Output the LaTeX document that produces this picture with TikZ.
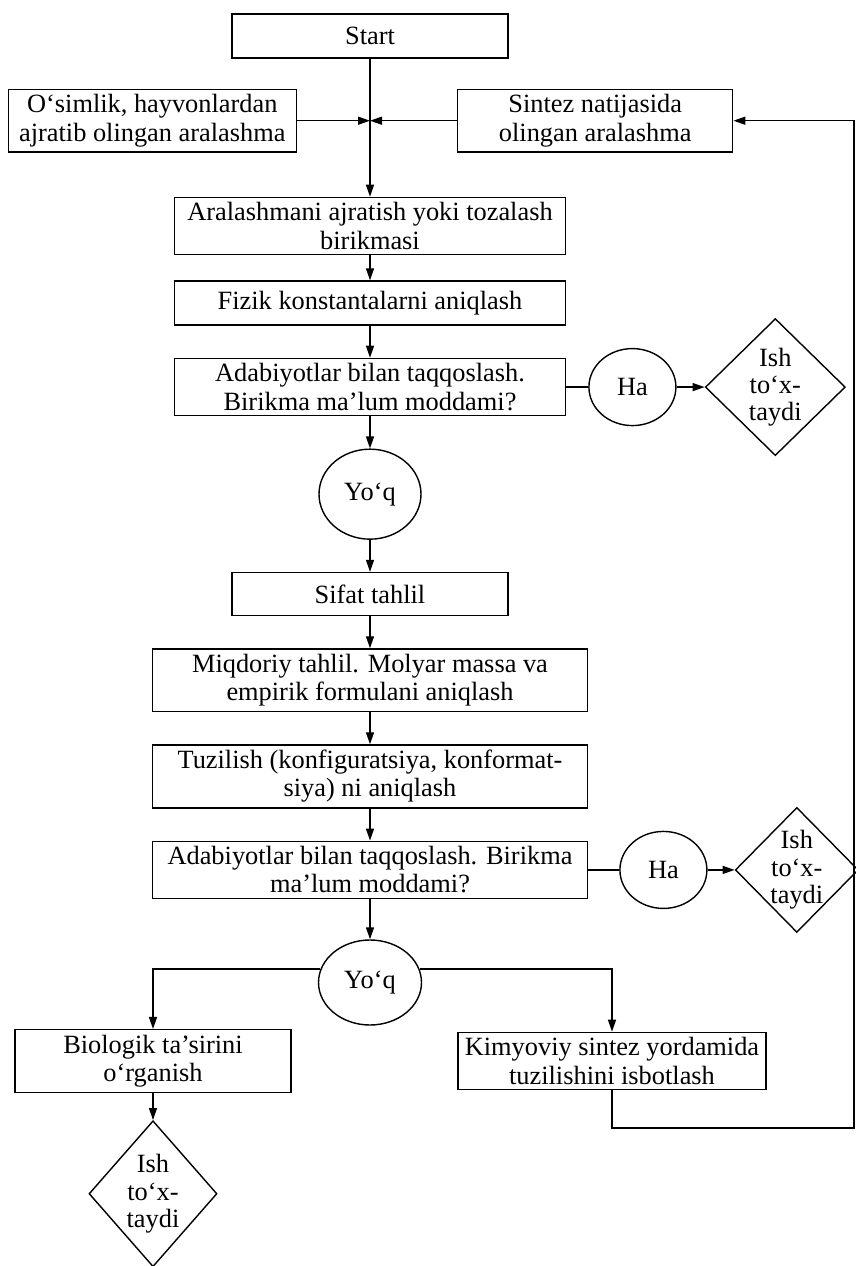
\documentclass[tikz,border=0pt]{standalone}
\usepackage{fontspec}
\setmainfont{Liberation Serif}
\usetikzlibrary{arrows.meta, positioning, shapes.geometric}
\tikzset{
	box/.style={rectangle, draw=black, line width=0.8pt, align=center, inner xsep=2pt, inner ysep=3pt, minimum width=5.52cm, minimum height=0.88cm, font=\fontsize{15}{16}\selectfont},
	midbox/.style={box, minimum width=7.82cm},
	widebox/.style={box, minimum width=8.7cm},
	answer/.style={ellipse, draw=black, line width=0.8pt, inner sep=0pt, minimum width=1.74cm, minimum height=1.54cm, font=\fontsize{15}{16}\selectfont},
	stopbox/.style={diamond, draw=black, line width=0.8pt, align=center, inner sep=-3pt, font=\fontsize{15}{15.5}\selectfont},
	arrow/.style={-{Triangle[length=2.4mm, width=1.6mm]}, line width=0.8pt},
	link/.style={line width=0.8pt},
}

\begin{document}
\begin{tikzpicture}[x=0.2mm, y=0.2mm, node distance=0.64cm]
	\useasboundingbox (0,0) rectangle (856,-1266);
	\node[box] (start) at (370,-36) {Start};
	\coordinate[below=1.24cm of start] (junc);
	\node[box, minimum width=5.76cm, left=1.46cm of junc] (osim) {O‘simlik, hayvonlardan\\ajratib olingan aralashma};
	\node[box, minimum width=5.5cm, right=1.74cm of junc] (sintez) {Sintez natijasida\\olingan aralashma};
	\node[midbox, below=1.52cm of junc] (aral) {Aralashmani ajratish yoki tozalash\\birikmasi};
	\node[midbox, below=0.5cm of aral] (fizik) {Fizik konstantalarni aniqlash};
	\node[midbox, below=of fizik] (adab1) {Adabiyotlar bilan taqqoslash.\\Birikma ma’lum moddami?};
	\node[answer, right=0.44cm of adab1] (ha1) {Ha};
	\node[stopbox, minimum width=2.8cm, minimum height=2.74cm, right=0.56cm of ha1] (dia1) {Ish\\to‘x-\\taydi};
	\node[answer, minimum width=2.04cm, minimum height=1.8cm, below=of adab1] (yoq1) {Yo‘q};
	\node[box, minimum height=0.86cm, below=of yoq1] (sifat) {Sifat tahlil};
	\node[widebox, below=of sifat] (miqd) {Miqdoriy tahlil. Molyar massa va\\empirik formulani aniqlash};
	\node[widebox, below=of miqd] (tuzil) {Tuzilish (konfiguratsiya, konformat-\\siya) ni aniqlash};
	\node[widebox, below=of tuzil] (adab2) {Adabiyotlar bilan taqqoslash. Birikma\\ma’lum moddami?};
	\node[answer, right=0.62cm of adab2] (ha2) {Ha};
	\node[stopbox, minimum width=2.46cm, minimum height=2.5cm, right=0.54cm of ha2] (dia2) {Ish\\to‘x-\\taydi};
	\node[answer, minimum width=2.06cm, minimum height=1.7cm, below=0.8cm of adab2] (yoq2) {Yo‘q};
	\node[box] (bio) at (153,-1061) {Biologik ta’sirini\\o‘rganish};
	\node[box, minimum width=6.16cm] (kim) at (612,-1061) {Kimyoviy sintez yordamida\\tuzilishini isbotlash};
	\node[stopbox, minimum width=2.56cm, minimum height=2.92cm, below=0.54cm of bio] (dia3) {Ish\\to‘x-\\taydi};
	\coordinate (back) at (854,-1128);
	\draw[arrow] (start) -- (aral);
	\draw[arrow] (osim) -- (junc);
	\draw[arrow] (sintez) -- (junc);
	\draw[arrow] (aral) -- (fizik);
	\draw[arrow] (fizik) -- (adab1);
	\draw[link] (adab1) -- (ha1);
	\draw[arrow] (ha1) -- (dia1);
	\draw[arrow] (adab1) -- (yoq1);
	\draw[arrow] (yoq1) -- (sifat);
	\draw[arrow] (sifat) -- (miqd);
	\draw[arrow] (miqd) -- (tuzil);
	\draw[arrow] (tuzil) -- (adab2);
	\draw[link] (adab2) -- (ha2);
	\draw[arrow] (ha2) -- (dia2);
	\draw[arrow] (adab2) -- (yoq2);
	\draw[arrow] (yoq2.165) -| (bio);
	\draw[arrow] (yoq2.15) -| (kim);
	\draw[arrow] (bio) -- (dia3);
	\draw[arrow] (kim) |- (back) |- (sintez);
\end{tikzpicture}
\end{document}
